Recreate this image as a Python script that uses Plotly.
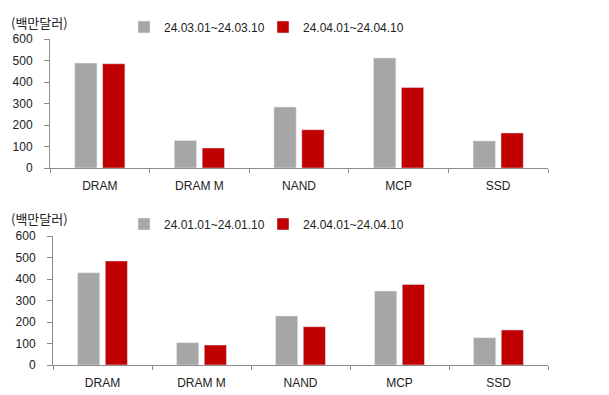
import plotly.graph_objects as go

categories = ["DRAM", "DRAM M", "NAND", "MCP", "SSD"]
top_prev_name = "24.03.01~24.03.10"
top_prev = [488, 128, 284, 512, 126]
top_curr_name = "24.04.01~24.04.10"
top_curr = [485, 93, 178, 375, 163]
bot_prev_name = "24.01.01~24.01.10"
bot_prev = [429, 104, 228, 344, 127]
bot_curr_name = "24.04.01~24.04.10"
bot_curr = [484, 93, 178, 375, 163]
y_ticks = [0, 100, 200, 300, 400, 500, 600]
unit_label = "(백만달러)"

GRAY = "#A6A6A6"
RED = "#C00000"
FONT = "Liberation Sans, Arial, sans-serif"
KFONT = "Noto Sans CJK KR, sans-serif"
W, H = 609, 395

def px_x(x):
    return x / W

def px_y(y):
    return 1 - y / H

fig = go.Figure()
fig.add_trace(go.Bar(x=categories, y=top_prev, name=top_prev_name, marker_color=GRAY,
                     xaxis="x", yaxis="y", legend="legend"))
fig.add_trace(go.Bar(x=categories, y=top_curr, name=top_curr_name, marker_color=RED,
                     xaxis="x", yaxis="y", legend="legend3"))
fig.add_trace(go.Bar(x=categories, y=bot_prev, name=bot_prev_name, marker_color=GRAY,
                     xaxis="x2", yaxis="y2", legend="legend2"))
fig.add_trace(go.Bar(x=categories, y=bot_curr, name=bot_curr_name, marker_color=RED,
                     xaxis="x2", yaxis="y2", legend="legend4"))

xcommon = dict(type="category", range=[-0.5, 4.5], showline=True, linecolor="#8C8C8C",
               linewidth=1, ticks="outside", tickson="boundaries", ticklen=4,
               tickcolor="#8C8C8C", showgrid=False, zeroline=False, automargin=False,
               tickfont=dict(family=FONT, size=12, color="#222"), ticklabelstandoff=7,
               fixedrange=True)
ycommon = dict(range=[0, 600], tickvals=y_ticks, showline=True, linecolor="#8C8C8C",
               linewidth=1, ticks="outside", ticklen=5, tickcolor="#8C8C8C",
               showgrid=False, zeroline=False, automargin=False,
               tickfont=dict(family=FONT, size=12, color="#222"), ticklabelstandoff=9,
               fixedrange=True)

legcommon = dict(orientation="h", xanchor="left", yanchor="middle",
                 font=dict(family=FONT, size=12, color="#222"), bgcolor="rgba(0,0,0,0)",
                 itemwidth=30, itemclick=False, itemdoubleclick=False)

fig.update_layout(
    width=W, height=H,
    margin=dict(l=0, r=0, t=0, b=0, autoexpand=False),
    paper_bgcolor="white", plot_bgcolor="white",
    barmode="group", bargap=0.44, bargroupgap=0.2,
    xaxis=dict(domain=[px_x(50), px_x(548)], anchor="y", **xcommon),
    yaxis=dict(domain=[px_y(168), px_y(39)], anchor="x", **ycommon),
    xaxis2=dict(domain=[px_x(53), px_x(548)], anchor="y2", **xcommon),
    yaxis2=dict(domain=[px_y(365), px_y(236)], anchor="x2", **ycommon),
    legend=dict(x=px_x(124), y=px_y(27), **legcommon),
    legend3=dict(x=px_x(263), y=px_y(27), **legcommon),
    legend2=dict(x=px_x(124), y=px_y(224), **legcommon),
    legend4=dict(x=px_x(263), y=px_y(224), **legcommon),
    showlegend=True,
    annotations=[
        dict(text=unit_label, x=px_x(9), y=px_y(23), xref="paper", yref="paper",
             xanchor="left", yanchor="middle", showarrow=False,
             font=dict(family=KFONT, size=13, color="#222")),
        dict(text=unit_label, x=px_x(9), y=px_y(219), xref="paper", yref="paper",
             xanchor="left", yanchor="middle", showarrow=False,
             font=dict(family=KFONT, size=13, color="#222")),
    ],
)

fig.write_html("out.html", config={"displayModeBar": False},
               post_script="document.body.style.margin='0';")
